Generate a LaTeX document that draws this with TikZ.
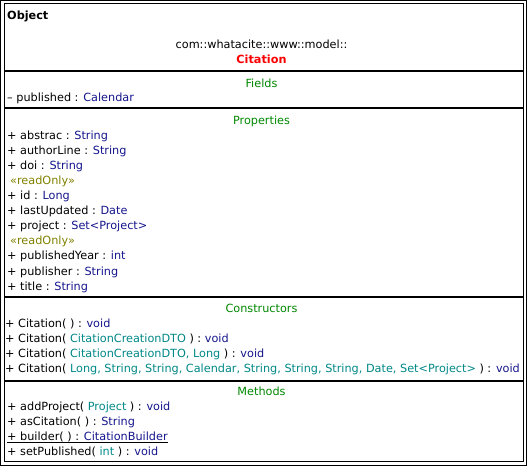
\documentclass[tikz,border=0pt]{standalone}
\usepackage{fontspec}
\setmainfont{DejaVu Sans}
\usetikzlibrary{positioning}

\definecolor{umlred}{RGB}{250,0,0}
\definecolor{umlgreen}{RGB}{0,135,0}
\definecolor{umlnavy}{RGB}{20,20,140}
\definecolor{umlteal}{RGB}{0,135,135}
\definecolor{umlolive}{RGB}{128,128,0}

\newcommand{\umltype}[1]{\textcolor{umlnavy}{#1}}
\newcommand{\umlparam}[1]{\textcolor{umlteal}{#1}}
\newcommand{\umlfont}{\fontsize{11.3}{13}\selectfont}

\tikzset{
  member/.style={anchor=base west, inner sep=0pt, font=\umlfont},
  header/.style={anchor=base, inner sep=0pt, font=\umlfont, text=umlgreen},
  sep/.style={line width=2bp}
}

\begin{document}
\begin{tikzpicture}[x=1bp,y=-1bp]
            \useasboundingbox (0,0) rectangle (527,466);

            % Draw frame
            \draw[line width=1bp] (0.5,0.5) rectangle (526,465);
            \draw[line width=1bp] (4,4) rectangle (523,461);

            % Draw compartment separators
            \foreach \y in {71,108.5,296.5,380.5}
                \draw[sep] (4,\y) -- (523,\y);

            % Class name
            \node[member, font=\umlfont\bfseries] (object) at (7,19.3) {Object};
            \node[header, text=black] (pkg) at (261.5,48.3) {com::whatacite::www::model::};
            \node[header, text=umlred, font=\umlfont\bfseries] (cls) at (261.5,64) {Citation};

            % Fields
            \node[header] (fields) at (261.5,87.3) {Fields};
            \node[member] (published) at (7,101.7) {– published : \umltype{Calendar}};

            % Properties
            \node[header] (props) at (261.5,125) {Properties};
            \foreach \yb/\nm/\ty [count=\i] in {140/abstrac/String, 155/authorLine/String,
                170/doi/String, 200/id/Long, 215/lastUpdated/Date, 230/project/Set<Project>,
                260/publishedYear/int, 275/publisher/String, 290/title/String}
                \node[member] (prop\i) at (7,\yb) {+ \nm{} : \umltype{\ty}};
            \node[member, text=umlolive] (ro1) at (10,185) {«readOnly»};
            \node[member, text=umlolive] (ro2) at (10,245) {«readOnly»};

            % Constructors
            \node[header] (ctors) at (261.5,312.3) {Constructors};
            \node[member] (ctor1) at (5,327.3) {+ Citation( ) : \umltype{void}};
            \node[member] (ctor2) at (5,342.3) {+ Citation( \umlparam{CitationCreationDTO} ) : \umltype{void}};
            \node[member] (ctor3) at (5,357.3) {+ Citation( \umlparam{CitationCreationDTO, Long} ) : \umltype{void}};
            \node[member] (ctor4) at (5,372.3) {+ Citation( \umlparam{Long, String, String, Calendar, String, String, String, Date, Set<Project>} ) : \umltype{void}};

            % Methods
            \node[header] (methods) at (261.5,395.7) {Methods};
            \node[member] (meth1) at (7,410.7) {+ addProject( \umlparam{Project} ) : \umltype{void}};
            \node[member] (meth2) at (7,425.7) {+ asCitation( ) : \umltype{String}};
            \node[member] (meth3) at (7,440.7) {+ builder( ) : \umltype{CitationBuilder}};
            \node[member] (meth4) at (7,455.7) {+ setPublished( \umlparam{int} ) : \umltype{void}};

            % Underline static method
            \draw[line width=0.8bp] ([yshift=-1.2bp]meth3.base west) -- ([yshift=-1.2bp]meth3.base east);
        \end{tikzpicture}
\end{document}
